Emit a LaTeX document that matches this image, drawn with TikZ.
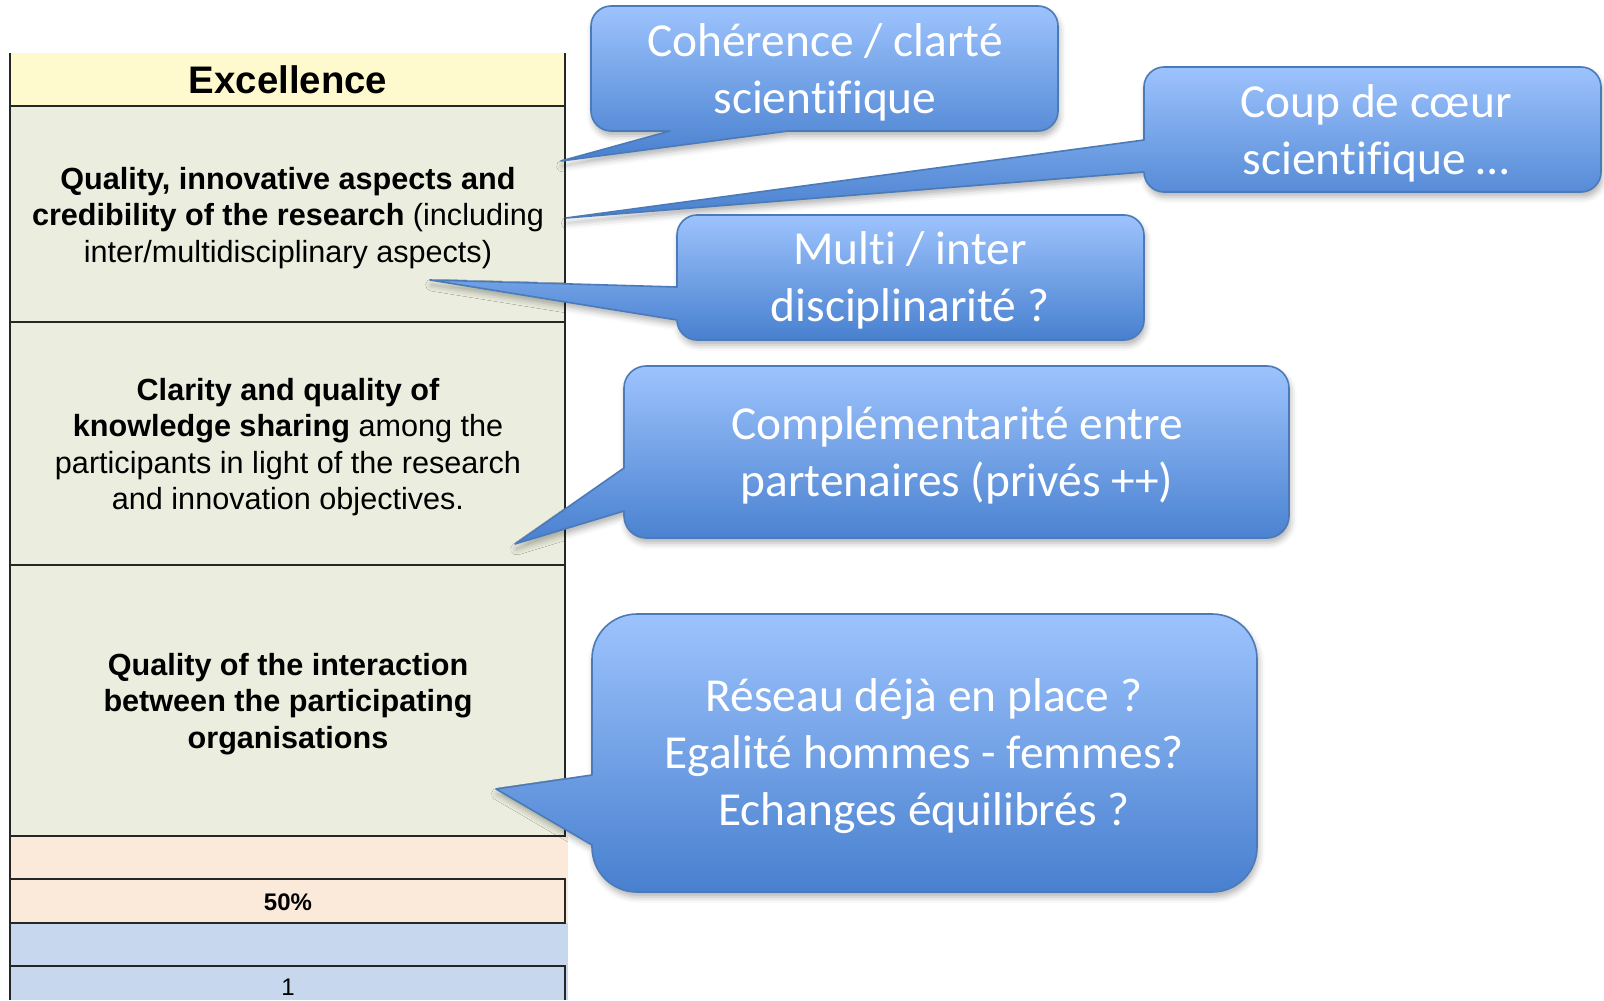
\documentclass[tikz,border=0pt]{standalone}
\usepackage{fontspec}
\setmainfont{Carlito}[Ligatures=NoCommon]
\newfontfamily\arialf{Liberation Sans}
\usetikzlibrary{shadows.blur}
\definecolor{cTop}{HTML}{9DC3FD}
\definecolor{cBot}{HTML}{4880CF}
\definecolor{cEdge}{HTML}{4A7BB8}
\definecolor{hdrY}{HTML}{FFFACD}
\definecolor{rowG}{HTML}{EBEDDE}
\definecolor{rowP}{HTML}{FBE9DA}
\definecolor{rowB}{HTML}{C6D7EE}
\tikzset{
 callout/.style={draw=cEdge, line width=0.8pt, line join=round, top color=cTop, bottom color=cBot,
   blur shadow={shadow xshift=0.8pt, shadow yshift=-2.5pt, shadow blur radius=3pt, shadow opacity=30}},
 ctext/.style={text=white, align=center, inner sep=0pt, font=\fontsize{23.7}{28.5}\selectfont},
 ttext/.style={align=center, inner sep=0pt, text=black, font=\arialf\fontsize{15.3}{18.3}\selectfont},
 tline/.style={draw=black!85, line width=1pt}
}
\begin{document}
\begin{tikzpicture}[x=0.5pt,y=-0.5pt]
\useasboundingbox (0,0) rectangle (1604,1000);
% ---------- table ----------
\fill[hdrY] (10,53) rectangle (565,106);
\fill[rowG] (10,106) rectangle (565,836);
\fill[rowP] (10,836) rectangle (568,923);
\fill[rowB] (10,923) rectangle (568,1000);
\draw[tline] (10,53) -- (10,1000);
\draw[tline] (565,53) -- (565,836);
\draw[tline] (565,879) -- (565,923);
\draw[tline] (565,966) -- (565,1000);
\foreach \yy in {106,322,565,836,879,923,966} \draw[tline] (10,\yy) -- (566,\yy);
\node[ttext, font=\arialf\bfseries\fontsize{19.2}{22}\selectfont] (hdr) at (288,80) {Excellence};
\node[ttext] (r1) at (288,218) {\textbf{Quality, innovative aspects and}\\\textbf{credibility of the research} (including\\inter/multidisciplinary aspects)};
\node[ttext] (r2) at (288,447) {\textbf{Clarity and quality of}\\\textbf{knowledge sharing} among the\\participants in light of the research\\and innovation objectives.};
\node[ttext, font=\arialf\bfseries\fontsize{15.3}{18.3}\selectfont] (r3) at (288,704) {Quality of the interaction\\between the participating\\organisations};
\node[ttext, font=\arialf\bfseries\fontsize{12}{14}\selectfont] (pct) at (288,902) {50\%};
\node[ttext, font=\arialf\fontsize{12}{14}\selectfont] (one) at (288,987) {1};
% ---------- callouts ----------
\coordinate (t1) at (561,161);
\coordinate (t2) at (566,218);
\coordinate (t3) at (430,280);
\coordinate (t4) at (515,544);
\coordinate (t5) at (496,789);
% C1
\path[callout] (611,6) -- (1038,6) .. controls (1049,6) and (1058,15) .. (1058,26) -- (1058,111)
  .. controls (1058,122) and (1049,131) .. (1038,131) -- (788,131) -- (t1) -- (670,131) -- (611,131)
  .. controls (600,131) and (591,122) .. (591,111) -- (591,26) .. controls (591,15) and (600,6) .. (611,6) -- cycle;
% C2
\path[callout] (1164,67) -- (1581,67) .. controls (1592,67) and (1601,76) .. (1601,87) -- (1601,172)
  .. controls (1601,183) and (1592,192) .. (1581,192) -- (1164,192) .. controls (1153,192) and (1144,183) .. (1144,172)
  -- (t2) -- (1144,140) -- (1144,87) .. controls (1144,76) and (1153,67) .. (1164,67) -- cycle;
% C3
\path[callout] (697,215) -- (1124,215) .. controls (1135,215) and (1144,224) .. (1144,235) -- (1144,320)
  .. controls (1144,331) and (1135,340) .. (1124,340) -- (697,340) .. controls (686,340) and (677,331) .. (677,320)
  -- (t3) -- (677,287) -- (677,235) .. controls (677,224) and (686,215) .. (697,215) -- cycle;
% C4
\path[callout] (646,366) -- (1267,366) .. controls (1279,366) and (1289,376) .. (1289,388) -- (1289,516)
  .. controls (1289,528) and (1279,538) .. (1267,538) -- (646,538) .. controls (634,538) and (624,528) .. (624,516)
  -- (624,511) -- (t4) -- (624,468) -- (624,388) .. controls (624,376) and (634,366) .. (646,366) -- cycle;
% C5
\path[callout] (637,614) -- (1212,614) .. controls (1237,614) and (1257,634) .. (1257,659) -- (1257,847)
  .. controls (1257,872) and (1237,892) .. (1212,892) -- (637,892) .. controls (612,892) and (592,872) .. (592,847)
  -- (592,845) -- (t5) -- (592,775) -- (592,659) .. controls (592,634) and (612,614) .. (637,614) -- cycle;
\node[ctext] (c1) at (825,72) {Cohérence / clarté\\scientifique};
\node[ctext] (c2) at (1376,133) {Coup de cœur\\scientifique …};
\node[ctext] (c3) at (910,280) {Multi / inter\\disciplinarité ?};
\node[ctext] (c4) at (957,455) {Complémentarité entre\\partenaires (privés ++)};
\node[ctext] (c5) at (924,756) {Réseau déjà en place ?\\Egalité hommes - femmes?\\Echanges équilibrés ?};
\end{tikzpicture}
\end{document}
